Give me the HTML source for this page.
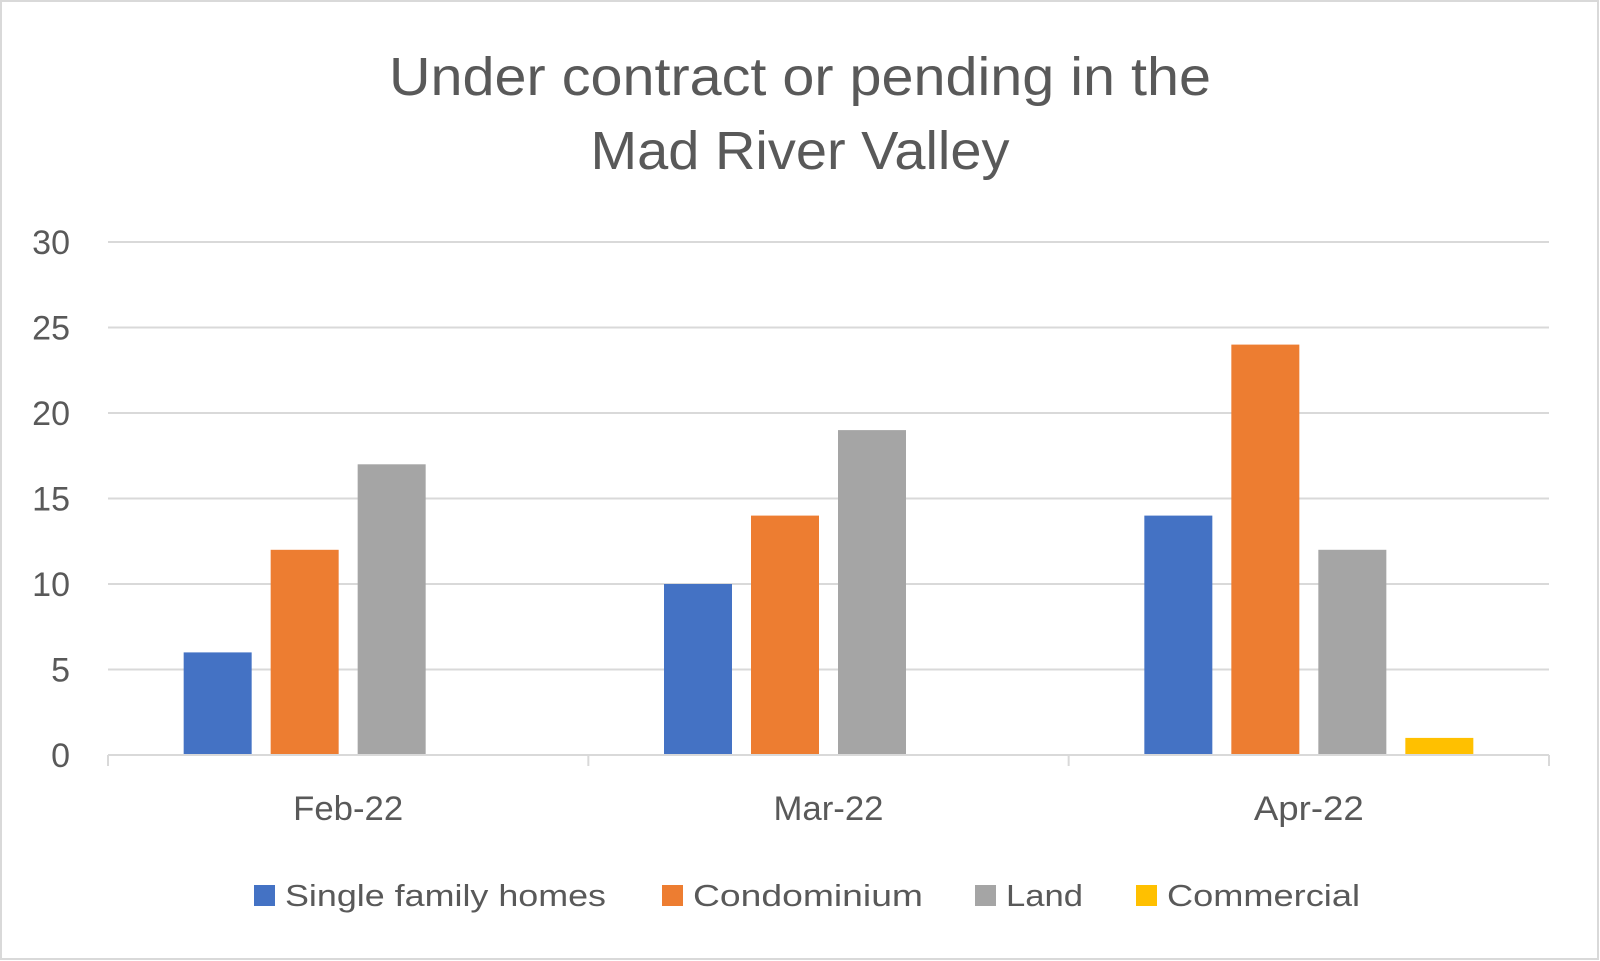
<!DOCTYPE html>
<html><head><meta charset="utf-8"><style>
html,body{margin:0;padding:0;background:#fff}
svg{display:block;font-family:"Liberation Sans",sans-serif}
</style></head><body>
<svg id="chart" width="1600" height="961" viewBox="0 0 1600 961">
<rect x="1" y="1" width="1597" height="958" fill="#fff" stroke="#d9d9d9" stroke-width="2"/>
<g>
<text x="800" y="95" text-anchor="middle" font-size="54" fill="#595959" textLength="822" lengthAdjust="spacingAndGlyphs">Under contract or pending in the</text>
<text x="800" y="169" text-anchor="middle" font-size="54" fill="#595959" textLength="419" lengthAdjust="spacingAndGlyphs">Mad River Valley</text>
</g>
<g id="grid"></g><g id="bars"></g><g id="axes"></g><g id="legend"></g>
</svg>
<script>
const categories = ["Feb-22","Mar-22","Apr-22"];
const seriesNames = ["Single family homes","Condominium","Land","Commercial"];
const singleFamily = [6,10,14];
const condominium = [12,14,24];
const land = [17,19,12];
const commercial = [0,0,1];
const yTicks = [0,5,10,15,20,25,30];
const colors = ["#4472c4","#ed7d31","#a5a5a5","#ffc000"];
const series = [singleFamily, condominium, land, commercial];

const NS="http://www.w3.org/2000/svg";
const L=108,R=1549,T=242,B=755,yMax=30;
const y=v=>B-(v/yMax)*(B-T);
const catW=(R-L)/categories.length;
const barW=68, gap=19;
const groupW=barW*series.length+gap*(series.length-1);
const x=(ci,si)=>L+ci*catW+(catW-groupW)/2+si*(barW+gap);
function mk(tag,attrs,parent){const e=document.createElementNS(NS,tag);for(const k in attrs)e.setAttribute(k,attrs[k]);parent.appendChild(e);return e;}
const grid=document.getElementById('grid'),bars=document.getElementById('bars'),axes=document.getElementById('axes'),legend=document.getElementById('legend');
yTicks.forEach(t=>{
  if(t>0){const g=mk('line',{x1:L,x2:R,y1:y(t),y2:y(t),stroke:'#d9d9d9','stroke-width':2},grid);
  
  }
  const lb=mk('text',{x:70,y:y(t)+12,'text-anchor':'end','font-size':34,fill:'#595959'},axes);
  lb.textContent=t;
  
  
});
series.forEach((s,si)=>{s.forEach((v,ci)=>{
  if(v<=0)return;
  const r=mk('rect',{x:x(ci,si),y:y(v),width:barW,height:B-y(v),fill:colors[si]},bars);
  
  
});});
const ax=mk('line',{x1:L,x2:R,y1:B,y2:B,stroke:'#d9d9d9','stroke-width':2},axes);


for(let i=0;i<=categories.length;i++){
  const tk=mk('line',{x1:L+i*catW,x2:L+i*catW,y1:B,y2:B+11,stroke:'#d9d9d9','stroke-width':2},axes);
  
  
}
categories.forEach((c,ci)=>{
  const t=mk('text',{x:L+(ci+0.5)*catW,y:820,'text-anchor':'middle','font-size':34,fill:'#595959',textLength:110,lengthAdjust:'spacingAndGlyphs'},axes);
  t.textContent=c;
  
  
});
const legX=[254,662,975,1136], legW=[321,230,77,193];
seriesNames.forEach((n,i)=>{
  const g=mk('g',{},legend);
  
  
  mk('rect',{x:legX[i],y:885,width:21,height:21,fill:colors[i]},g);
  const t=mk('text',{x:legX[i]+31,y:906,'font-size':31,fill:'#595959',textLength:legW[i],lengthAdjust:'spacingAndGlyphs'},g);
  t.textContent=n;
});
</script>
</body></html>
